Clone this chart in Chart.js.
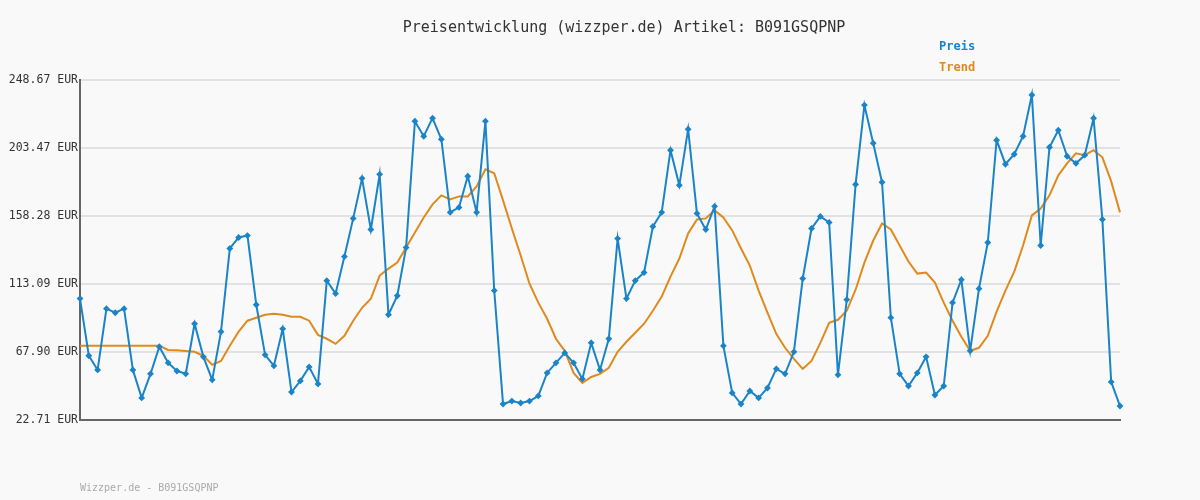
<!DOCTYPE html>
<html>
<head>
<meta charset="utf-8">
<script src="https://cdn.jsdelivr.net/npm/chart.js@4"></script>
<style>
  html, body { margin: 0; padding: 0; background: #f9f9f9; }
  #wrap { width: 1200px; height: 500px; position: relative; }
</style>
</head>
<body>
<div id="wrap"><canvas id="priceChart"></canvas></div>
<script>
// Price values (EUR)
const preis = [
  103.4, 65.4, 56.0, 96.7, 94.0, 96.7, 56.0, 37.4, 53.4, 71.4,
  60.7, 55.3, 53.4, 86.7, 64.7, 49.4, 81.4, 136.7, 144.0, 145.3,
  99.3, 66.0, 58.7, 83.3, 41.3, 48.7, 58.0, 46.7, 115.3, 106.7,
  131.3, 156.7, 183.3, 149.3, 186.0, 92.7, 105.3, 137.3, 221.3, 211.3,
  223.3, 209.3, 160.7, 164.0, 184.7, 160.7, 221.3, 108.7, 33.3, 35.3,
  34.0, 35.3, 38.7, 54.0, 60.7, 67.3, 60.7, 50.0, 74.0, 56.0,
  76.7, 143.3, 103.4, 115.3, 120.7, 151.3, 160.7, 202.0, 178.7, 216.0,
  160.0, 149.3, 164.7, 72.0, 40.7, 33.3, 42.0, 37.4, 44.0, 56.7,
  53.4, 68.0, 116.7, 150.0, 158.0, 154.0, 52.7, 102.7, 179.3, 232.0,
  206.7, 180.7, 90.7, 53.4, 45.3, 54.0, 64.7, 39.3, 45.3, 100.7,
  116.0, 68.7, 110.0, 140.7, 208.7, 192.7, 199.3, 211.3, 238.7, 138.7,
  204.0, 215.3, 198.0, 193.3, 198.7, 223.3, 156.0, 48.0, 32.0
];

// Trend line values (EUR)
const trend = [
  72, 72, 72, 72, 72, 72, 72, 72, 72, 72,
  69.3, 69.0, 68.5, 68.0, 65.4, 59.4, 62.0, 72.0, 81.4, 88.7,
  90.7, 92.7, 93.4, 92.7, 91.3, 91.3, 88.7, 79.3, 76.7, 73.3,
  78.7, 88.7, 97.3, 103.3, 118.7, 123.3, 127.3, 137.3, 147.3, 157.3,
  166.0, 172.0, 169.3, 171.3, 171.3, 178.0, 189.3, 186.7, 168.7, 150.0,
  132.0, 113.3, 100.7, 90.0, 76.7, 68.7, 54.0, 47.3, 51.3, 53.4,
  57.4, 68.0, 74.7, 80.7, 86.7, 95.3, 104.7, 118.0, 130.0, 146.7,
  156.0, 156.7, 162.0, 157.3, 148.7, 136.7, 125.3, 108.7, 94.0, 80.0,
  70.7, 63.3, 56.7, 62.0, 74.0, 87.3, 89.3, 95.3, 109.3, 127.3,
  142.0, 153.3, 149.3, 138.7, 128.0, 120.0, 120.7, 114.0, 100.7, 88.7,
  78.0, 68.7, 70.7, 78.7, 94.7, 108.7, 121.3, 138.7, 158.7, 163.3,
  172.0, 185.3, 193.3, 200.0, 198.7, 202.0, 197.3, 181.3, 160.7
];

const yTicks = [22.71, 67.90, 113.09, 158.28, 203.47, 248.67];
const labels = preis.map((_, i) => i + 1);

const MONO = '"DejaVu Sans Mono", monospace';

// Title, legend and footer drawn as text on the canvas
const decorations = {
  id: 'decorations',
  afterDraw(chart) {
    const ctx = chart.ctx;
    ctx.save();
    ctx.textBaseline = 'middle';
    ctx.font = '15px ' + MONO;
    ctx.fillStyle = '#333';
    ctx.textAlign = 'center';
    ctx.fillText('Preisentwicklung (wizzper.de) Artikel: B091GSQPNP', 624, 28);

    ctx.textAlign = 'left';
    ctx.font = 'bold 12px ' + MONO;
    ctx.fillStyle = '#1a84c8';
    ctx.fillText('Preis', 939, 47);
    ctx.fillStyle = '#e08a1e';
    ctx.fillText('Trend', 939, 68);

    ctx.font = '10px ' + MONO;
    ctx.fillStyle = '#aaa';
    ctx.fillText('Wizzper.de - B091GSQPNP', 80, 488);
    ctx.restore();
  }
};

new Chart(document.getElementById('priceChart'), {
  type: 'line',
  data: {
    labels: labels,
    datasets: [{
      label: 'Preis',
      data: preis,
      borderColor: '#1a84c8',
      backgroundColor: '#1a84c8',
      borderWidth: 2,
      pointStyle: 'rectRot',
      pointRadius: 2,
      pointHoverRadius: 2,
      tension: 0
    }, {
      label: 'Trend',
      data: trend,
      borderColor: '#e08a1e',
      borderWidth: 2,
      pointRadius: 0,
      tension: 0
    }]
  },
  options: {
    responsive: true,
    maintainAspectRatio: false,
    animation: false,
    layout: { padding: { top: 80, right: 80, bottom: 80, left: 0 } },
    plugins: {
      legend: { display: false },
      tooltip: { enabled: false }
    },
    scales: {
      x: {
        offset: false,
        ticks: { display: false },
        grid: { display: false, drawTicks: false },
        border: { color: '#666', width: 2 }
      },
      y: {
        min: 22.71,
        max: 248.67,
        afterFit: axis => { axis.width = 80; },
        afterBuildTicks: axis => { axis.ticks = yTicks.map(v => ({ value: v })); },
        ticks: {
          color: '#333',
          font: { family: MONO, size: 11.5 },
          padding: 2,
          callback: v => v.toFixed(2) + ' EUR'
        },
        grid: { color: '#e2e2e2', lineWidth: 2, drawTicks: false },
        border: { color: '#666', width: 2 }
      }
    }
  },
  plugins: [decorations]
});
</script>
</body>
</html>
